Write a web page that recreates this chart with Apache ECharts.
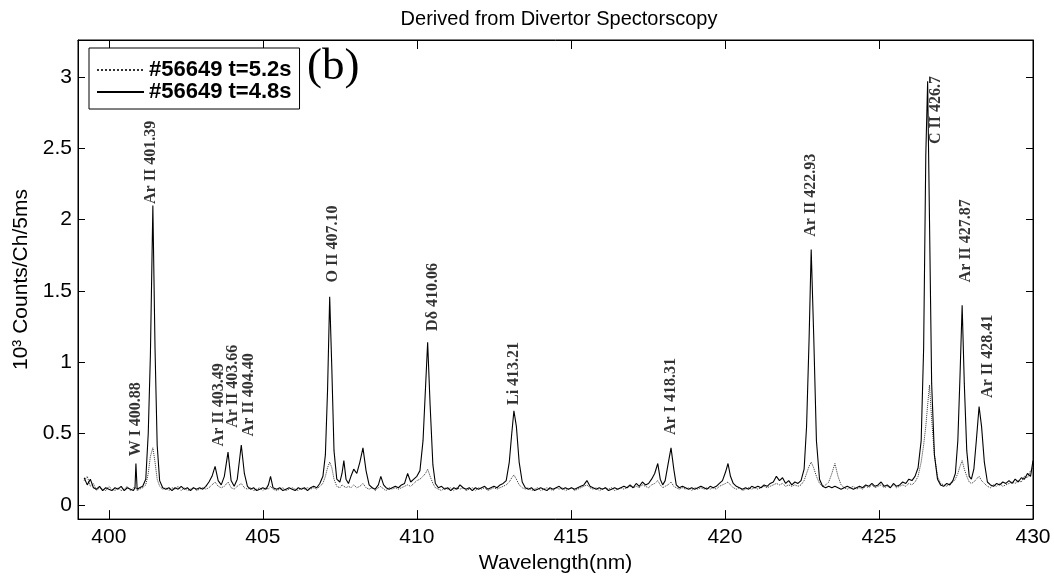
<!DOCTYPE html>
<html><head><meta charset="utf-8">
<script src="https://cdn.jsdelivr.net/npm/echarts@6/dist/echarts.min.js"></script>
<style>html,body{margin:0;padding:0;background:#fff}#c{width:1054px;height:579px}</style>
</head><body><div id="c"></div><script>
const titleText = 'Derived from Divertor Spectorscopy';
const xName = 'Wavelength(nm)';
const yName = '10³ Counts/Ch/5ms';
const seriesNames = ['#56649 t=5.2s', '#56649 t=4.8s'];
const xTicks = [400, 405, 410, 415, 420, 425, 430];
const yTicks = [0, 0.5, 1, 1.5, 2, 2.5, 3];

const wavelength = [
 399.2,399.3,399.4,399.5,399.6,399.7,399.8,399.9,400.0,400.1,400.2,400.3,400.4,400.5,400.6,400.7,400.8,
 400.85,400.88,400.92,401.0,401.1,401.2,401.28,401.35,401.43,401.5,401.57,401.65,401.75,401.85,401.95,
 402.05,402.15,402.25,402.35,402.45,402.55,402.65,402.75,402.85,402.95,403.05,403.15,
 403.25,403.35,403.45,403.55,403.65,403.75,403.87,403.97,404.07,404.17,404.3,404.4,404.5,
 404.6,404.7,404.8,404.9,405.0,405.1,405.18,405.25,405.33,405.45,405.55,405.65,405.75,405.85,405.95,406.05,406.15,406.25,406.35,406.45,406.55,406.65,
 406.75,406.85,406.95,407.03,407.1,407.17,407.24,407.31,407.4,407.5,407.57,407.63,407.7,407.78,407.86,407.95,408.05,408.15,408.25,408.35,408.45,408.55,
 408.65,408.75,408.83,408.92,409.0,409.1,409.2,409.3,409.4,409.5,409.6,409.7,409.8,409.9,410.0,410.1,
 410.2,410.28,410.35,410.43,410.52,410.6,
 410.7,410.8,410.9,411.0,411.1,411.2,411.3,411.4,411.5,411.6,411.7,411.8,411.9,412.0,412.1,412.2,412.3,412.4,412.5,412.6,412.7,412.8,412.9,
 413.0,413.08,413.15,413.23,413.32,413.42,
 413.52,413.62,413.72,413.82,413.92,414.02,414.12,414.22,414.32,414.42,
 414.52,414.62,414.72,414.82,414.92,415.02,415.12,415.22,415.32,415.42,
 415.52,415.62,415.72,415.82,415.92,416.02,416.12,416.22,416.32,416.42,
 416.52,416.62,416.72,416.82,416.92,417.02,417.12,417.22,417.32,417.42,
 417.52,417.62,
 417.72,417.82,417.9,417.98,418.06,418.15,418.25,418.34,418.42,
 418.52,418.62,418.72,418.82,418.92,419.02,419.12,419.22,419.32,419.42,419.52,419.62,419.72,419.82,419.92,
 420.02,420.1,420.18,420.27,
 420.37,420.47,420.57,420.67,420.77,420.87,420.97,421.07,421.17,421.27,
 421.37,421.47,421.57,421.67,421.77,421.87,421.97,422.07,422.17,422.27,
 422.37,422.47,422.57,
 422.65,422.73,422.8,422.88,422.97,423.07,
 423.17,423.27,423.37,423.47,423.57,423.67,423.77,423.87,423.97,424.07,
 424.17,424.27,424.37,424.47,424.57,424.67,424.77,424.87,424.97,425.07,
 425.17,425.27,425.37,425.47,425.57,425.67,425.77,425.87,425.97,426.07,
 426.17,
 426.27,426.37,426.45,426.52,426.58,426.64,426.71,426.8,426.9,427.0,
 427.1,427.2,427.3,427.4,427.48,427.56,427.63,427.7,427.77,427.85,427.93,428.0,
 428.08,428.16,428.25,428.33,428.42,428.52,
 428.62,428.72,428.82,428.92,429.02,429.12,429.22,429.32,429.42,429.52,429.62,429.72,429.82,429.92,430.0
];

// t = 4.8 s (solid)
const counts48 = [
 .19,.14,.18,.12,.11,.13,.10,.12,.11,.10,.12,.11,.13,.10,.12,.11,.10,
 .12,.29,.11,.12,.13,.18,.50,1.05,2.10,1.10,.42,.17,.12,.11,.12,
 .10,.12,.11,.13,.11,.12,.10,.12,.11,.12,.11,.13,
 .16,.20,.27,.17,.14,.20,.37,.17,.13,.18,.42,.22,.13,
 .11,.12,.10,.11,.12,.11,.14,.20,.12,.11,.12,.10,.11,.12,.11,.10,.12,.11,.12,.10,.12,.13,
 .12,.15,.20,.35,.80,1.46,.95,.38,.18,.16,.22,.31,.18,.15,.20,.25,.22,.30,.40,.24,.14,.12,
 .11,.14,.20,.14,.12,.11,.12,.13,.12,.14,.15,.22,.16,.18,.20,.24,
 .45,.82,1.14,.70,.28,.15,
 .12,.13,.11,.12,.10,.12,.11,.14,.12,.11,.12,.10,.12,.11,.12,.13,.11,.12,.13,.12,.14,.15,.17,
 .30,.50,.66,.55,.30,.16,
 .12,.11,.12,.10,.11,.12,.11,.10,.12,.11,
 .12,.13,.11,.12,.11,.12,.11,.12,.13,.14,
 .17,.13,.12,.11,.12,.11,.12,.10,.11,.12,
 .11,.12,.13,.12,.14,.12,.15,.13,.16,.14,
 .15,.18,
 .22,.29,.18,.14,.17,.28,.40,.25,.14,
 .12,.13,.12,.11,.12,.11,.12,.13,.12,.11,.13,.12,.13,.15,.17,
 .23,.29,.20,.15,
 .13,.12,.11,.12,.11,.13,.12,.13,.12,.14,
 .13,.15,.16,.20,.17,.19,.15,.17,.14,.16,
 .15,.17,.25,
 .55,1.15,1.79,1.20,.45,.18,
 .13,.12,.13,.12,.13,.12,.11,.12,.13,.12,
 .11,.12,.13,.12,.14,.13,.15,.13,.14,.16,
 .13,.14,.12,.15,.13,.14,.16,.15,.18,.17,
 .20,
 .26,.45,1.10,2.45,2.97,2.00,.85,.35,.18,.14,
 .13,.15,.14,.17,.22,.45,.90,1.40,.85,.38,.20,.18,
 .25,.45,.69,.55,.30,.16,
 .14,.13,.15,.14,.16,.15,.17,.15,.18,.16,.19,.18,.22,.20,.31
];

// t = 5.2 s (dotted)
const counts52 = [
 .17,.20,.13,.15,.10,.12,.11,.10,.13,.11,.10,.12,.10,.11,.13,.10,.12,
 .11,.12,.10,.11,.12,.14,.22,.34,.40,.30,.18,.13,.11,.12,.10,
 .12,.11,.13,.10,.12,.10,.11,.12,.10,.11,.12,.11,
 .12,.14,.16,.13,.12,.13,.16,.12,.11,.13,.15,.12,.11,
 .12,.10,.11,.12,.10,.12,.11,.13,.11,.10,.11,.12,.10,.11,.12,.11,.10,.12,.11,.12,.11,.12,
 .11,.13,.15,.20,.26,.30,.26,.18,.13,.12,.14,.13,.12,.13,.12,.14,.12,.13,.15,.12,.11,.12,
 .10,.12,.13,.11,.10,.12,.11,.12,.11,.12,.13,.14,.13,.15,.17,.18,
 .20,.22,.25,.20,.15,.12,
 .11,.10,.12,.11,.12,.10,.12,.11,.12,.10,.11,.12,.10,.12,.11,.12,.10,.11,.12,.11,.12,.13,.14,
 .16,.19,.21,.18,.14,.12,
 .11,.12,.10,.11,.12,.10,.11,.12,.11,.10,
 .12,.11,.12,.10,.11,.12,.10,.11,.12,.13,
 .14,.12,.11,.12,.10,.11,.12,.11,.12,.10,
 .11,.12,.11,.12,.13,.12,.13,.12,.14,.13,
 .12,.14,
 .15,.17,.14,.12,.13,.14,.16,.13,.12,
 .11,.12,.11,.12,.10,.12,.11,.12,.11,.12,.11,.12,.11,.13,.14,
 .15,.16,.14,.12,
 .11,.12,.10,.11,.12,.11,.12,.11,.12,.13,
 .12,.13,.14,.15,.14,.15,.13,.14,.13,.14,
 .13,.14,.17,
 .22,.27,.30,.26,.20,.15,
 .13,.14,.16,.22,.29,.20,.14,.12,.11,.12,
 .13,.11,.12,.11,.13,.12,.14,.12,.13,.14,
 .12,.13,.12,.14,.12,.13,.14,.13,.15,.14,
 .16,
 .20,.30,.42,.55,.70,.84,.60,.35,.20,.15,
 .14,.13,.15,.16,.18,.22,.27,.31,.25,.20,.16,.15,
 .16,.18,.20,.17,.15,.13,
 .12,.14,.13,.15,.13,.14,.15,.16,.15,.17,.16,.20,.19,.24,.26
];

// spectral line identifications
const lineLabels = ['W I 400.88','Ar II 401.39','Ar II 403.49','Ar II 403.66','Ar II 404.40','O II 407.10','Dδ 410.06','Li 413.21','Ar I 418.31','Ar II 422.93','C II 426.7','Ar II 427.87','Ar II 428.41'];
const labelNm = [400.88, 401.36, 403.57, 404.03, 404.55, 407.27, 410.52, 413.15, 418.25, 422.79, 426.85, 427.82, 428.54];
const labelCounts = [0.34, 2.11, 0.41, 0.54, 0.48, 1.56, 1.22, 0.70, 0.49, 1.88, 2.53, 1.56, 0.75];

const sans = 'Liberation Sans';
const serif = 'Liberation Serif';
const pairs = arr => wavelength.map((w, i) => [w, arr[i]]);
const labelData = lineLabels.map((t, i) => ({ name: t, value: [labelNm[i], labelCounts[i]] }));

const chart = echarts.init(document.getElementById('c'), null, { renderer: 'canvas' });
const baseAxisLine = { show: true, onZero: false, lineStyle: { color: '#000', width: 1 } };
chart.setOption({
  animation: false,
  backgroundColor: '#fff',
  title: { text: titleText, left: 554, top: 4, textAlign: 'center',
    textStyle: { fontFamily: sans, fontSize: 20, fontWeight: 'normal', color: '#000' } },
  grid: { left: 78, right: 21, top: 40, bottom: 57, show: true, borderColor: '#000', borderWidth: 1 },
  legend: {
    data: seriesNames, orient: 'vertical', left: 89, top: 48,
    padding: [11, 8, 6, 7], itemWidth: 47, itemHeight: 14, itemGap: 0,
    backgroundColor: '#fff', borderColor: '#000', borderWidth: 1, borderRadius: 0,
    itemStyle: { opacity: 0 },
    textStyle: { fontFamily: sans, fontSize: 22, fontWeight: 'bold', color: '#000', lineHeight: 22 }
  },
  xAxis: [
    { type: 'value', min: 399, max: 430, position: 'bottom',
      axisLine: baseAxisLine,
      axisTick: { show: true, inside: true, length: 9, customValues: xTicks, lineStyle: { color: '#000' } },
      axisLabel: { customValues: xTicks, margin: 8, fontFamily: sans, fontSize: 21, color: '#000' },
      splitLine: { show: false },
      name: xName, nameLocation: 'middle', nameGap: 31,
      nameTextStyle: { fontFamily: sans, fontSize: 21, color: '#000' } },
    { type: 'value', min: 399, max: 430, position: 'top',
      axisLine: baseAxisLine,
      axisTick: { show: true, inside: true, length: 9, customValues: xTicks, lineStyle: { color: '#000' } },
      axisLabel: { show: false }, splitLine: { show: false } }
  ],
  yAxis: [
    { type: 'value', min: -0.1, max: 3.26, position: 'left',
      axisLine: baseAxisLine,
      axisTick: { show: true, inside: true, length: 7, customValues: yTicks, lineStyle: { color: '#000' } },
      axisLabel: { customValues: yTicks, margin: 6, fontFamily: sans, fontSize: 21, color: '#000' },
      splitLine: { show: false },
      name: yName, nameLocation: 'middle', nameGap: 43,
      nameTextStyle: { fontFamily: sans, fontSize: 21, color: '#000' } },
    { type: 'value', min: -0.1, max: 3.26, position: 'right',
      axisLine: baseAxisLine,
      axisTick: { show: true, inside: true, length: 7, customValues: yTicks, lineStyle: { color: '#000' } },
      axisLabel: { show: false }, splitLine: { show: false } }
  ],
  graphic: [
    { type: 'text', left: 307, top: 45, z: 10,
      style: { text: '(b)', font: 'normal 45px "Liberation Serif"', fill: '#000' } }
  ],
  series: [
    { name: seriesNames[0], type: 'line', data: pairs(counts52), symbol: 'none', showSymbol: false,
      lineStyle: { color: '#333', width: 1, type: 'dotted' }, itemStyle: { color: '#333' }, z: 2 },
    { name: seriesNames[1], type: 'line', data: pairs(counts48), symbol: 'none', showSymbol: false,
      lineStyle: { color: '#000', width: 1.1 }, itemStyle: { color: '#000' }, z: 3 },
    { type: 'scatter', data: labelData, symbolSize: 0, silent: true, z: 5,
      label: { show: true, position: 'top', distance: 0, rotate: 90, align: 'left', verticalAlign: 'middle',
        formatter: '{b}', fontFamily: serif, fontWeight: 'bold', fontSize: 16, color: '#000' } }
  ]
});
</script></body></html>
